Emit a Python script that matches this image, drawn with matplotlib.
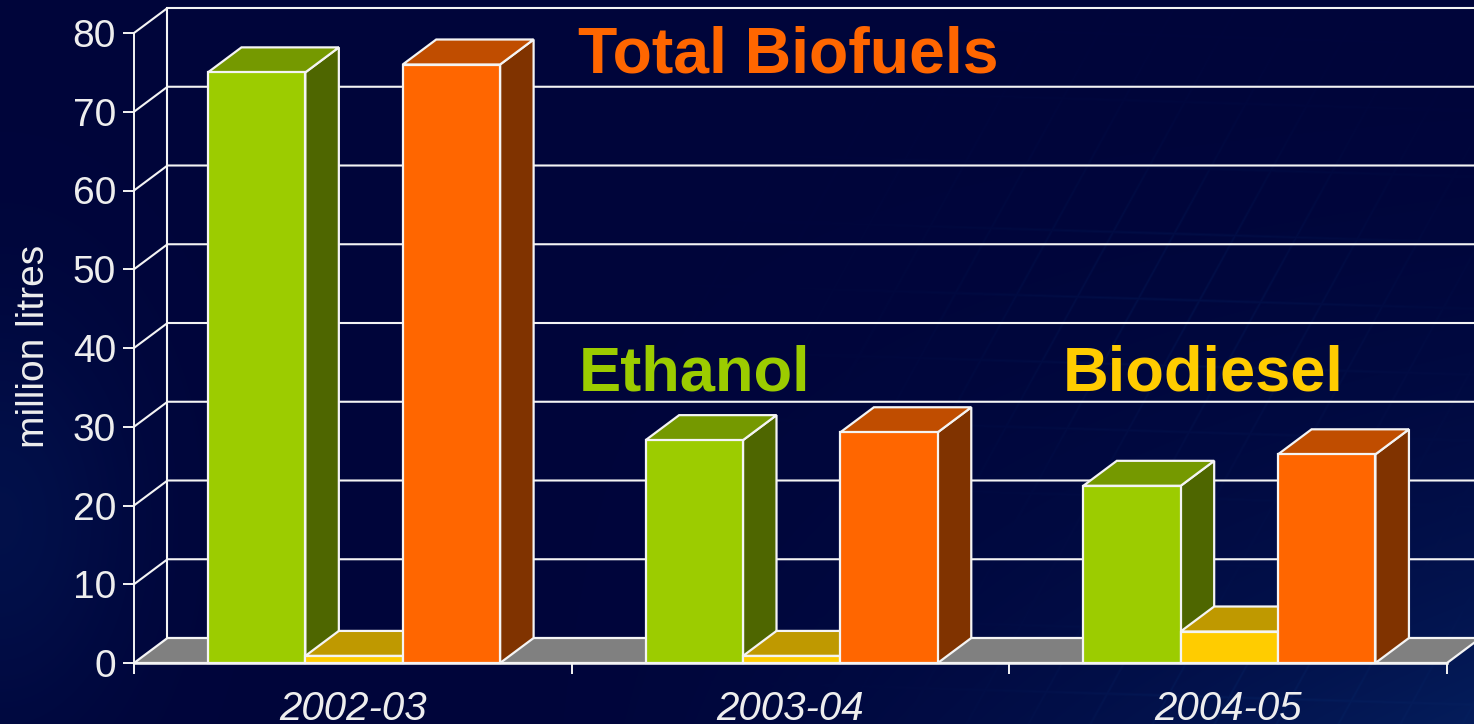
import numpy as np
import matplotlib
matplotlib.use('Agg')
import matplotlib.pyplot as plt
from matplotlib.patches import Polygon

plt.rcParams['font.family'] = ['Liberation Sans', 'DejaVu Sans']

years = ['2002-03', '2003-04', '2004-05']
ethanol = [75.0, 28.3, 22.5]
biodiesel = [0.9, 0.9, 4.0]
total = [76.0, 29.3, 26.5]
y_ticks = [0, 10, 20, 30, 40, 50, 60, 70, 80]

# front, top, side colours of each series
green = ('#9ccc00', '#759900', '#4e6600')
yellow = ('#ffcc00', '#bf9900', '#806600')
orange = ('#ff6600', '#c04d00', '#803300')

W, H = 1474, 724
DX = 33.5 / 437.67   # depth of the fake 3d box, in data units
DY = 25 / 7.875
BAR_W = 0.2225
BAR_START = 0.169
LINE = '#f4f4f4'

fig = plt.figure(figsize=(W / 100, H / 100), dpi=100)

# background: dark navy, lighter at the left edge and bottom right, faint mesh on the right
bg = fig.add_axes([0, 0, 1, 1], zorder=0)
py, px = np.mgrid[0:H, 0:W].astype(float)
xx, yy = px / W, py / H
base = np.array([0.0, 0.02, 0.23])
light = np.array([0.02, 0.13, 0.38])
mix = 0.85 * np.clip((xx - 0.35) / 0.65, 0, 1) ** 1.5 * yy ** 2.5
mix = mix + 0.4 * np.exp(-(px / 130) ** 2 - ((py - 520) / 200) ** 2)
mesh_a = np.abs((px + 0.55 * py) % 62 - 31) - 29
mesh_b = np.abs((py - 0.03 * px) % 66 - 33) - 31
mesh = np.clip(np.maximum(mesh_a, mesh_b), 0, 2) / 2
fade = np.exp(-((px - 1180) / 230) ** 2 - ((py - 300) / 170) ** 2)
fade = fade + 0.8 * np.exp(-((px - 1230) / 220) ** 2 - ((py - 690) / 70) ** 2)
mix = np.clip(mix + 0.3 * mesh * fade, 0, 1)[..., None]
bg.imshow(base * (1 - mix) + light * mix, aspect='auto', extent=[0, 1, 1, 0], interpolation='bilinear')
bg.set_xlim(0, 1)
bg.set_ylim(1, 0)
bg.axis('off')

ax = fig.add_axes([134 / W, 1 - 663 / H, (1447 - 134) / W, 630 / H], zorder=1)
ax.set_xlim(0, 3)
ax.set_ylim(0, 80)
ax.patch.set_visible(False)
for s in ax.spines.values():
    s.set_visible(False)


def face(pts, color, z):
    ax.add_patch(Polygon(pts, closed=True, facecolor=color, edgecolor=LINE,
                         linewidth=1.6, joinstyle='miter', clip_on=False, zorder=z))


def bar3d(x, v, colors, z):
    x2 = x + BAR_W
    face([(x2, 0), (x2 + DX, DY), (x2 + DX, v + DY), (x2, v)], colors[2], z)
    face([(x, v), (x + DX, v + DY), (x2 + DX, v + DY), (x2, v)], colors[1], z)
    face([(x, 0), (x2, 0), (x2, v), (x, v)], colors[0], z + 0.1)


# walls and floor
face([(0, 0), (DX, DY), (3 + DX, DY), (3, 0)], '#808080', 2)
for t in y_ticks[1:]:
    ax.plot([0, DX, 3 + DX], [t, t + DY, t + DY], color=LINE, lw=1.5, clip_on=False, zorder=1)
ax.plot([DX, DX], [0 + DY, 80 + DY], color=LINE, lw=1.5, clip_on=False, zorder=1)

# bars, left to right so the nearer faces sit on top
for i in range(len(years)):
    bar3d(i + BAR_START, ethanol[i], green, 3 + i)
    bar3d(i + BAR_START + BAR_W, biodiesel[i], yellow, 3.3 + i)
    bar3d(i + BAR_START + 2 * BAR_W, total[i], orange, 3.6 + i)

ax.set_xticks([0, 1, 2, 3])
ax.set_xticklabels([])
ax.set_yticks(y_ticks)
ax.tick_params(axis='y', direction='out', length=8, width=1.4, color=LINE,
               labelcolor='#eeeeee', labelsize=28, pad=5)
ax.tick_params(axis='x', direction='out', length=8, width=1.4, color=LINE)
ax.spines['left'].set(visible=True, color=LINE, linewidth=1.4, zorder=8)
ax.spines['bottom'].set(visible=True, color=LINE, linewidth=1.8, zorder=8)

for i, label in enumerate(years):
    ax.text(i + 0.5, -7.3, label, color='#eeeeee', fontsize=29, style='italic',
            ha='center', va='baseline', clip_on=False)

ax.set_ylabel('million litres', color='#eeeeee', fontsize=28, va='center', ha='center')
ax.yaxis.set_label_coords(-100 / 1313, 0.503)

ax.text(1.0145, 75, 'Total Biofuels', color='#ff6600', fontsize=46.4, fontweight='bold', zorder=9)
ax.text(1.017, 34.6, 'Ethanol', color='#9ccc00', fontsize=45.5, fontweight='bold', zorder=9)
ax.text(2.1225, 34.6, 'Biodiesel', color='#ffcc00', fontsize=45.5, fontweight='bold', zorder=9)

fig.savefig('out.png', dpi=100)
